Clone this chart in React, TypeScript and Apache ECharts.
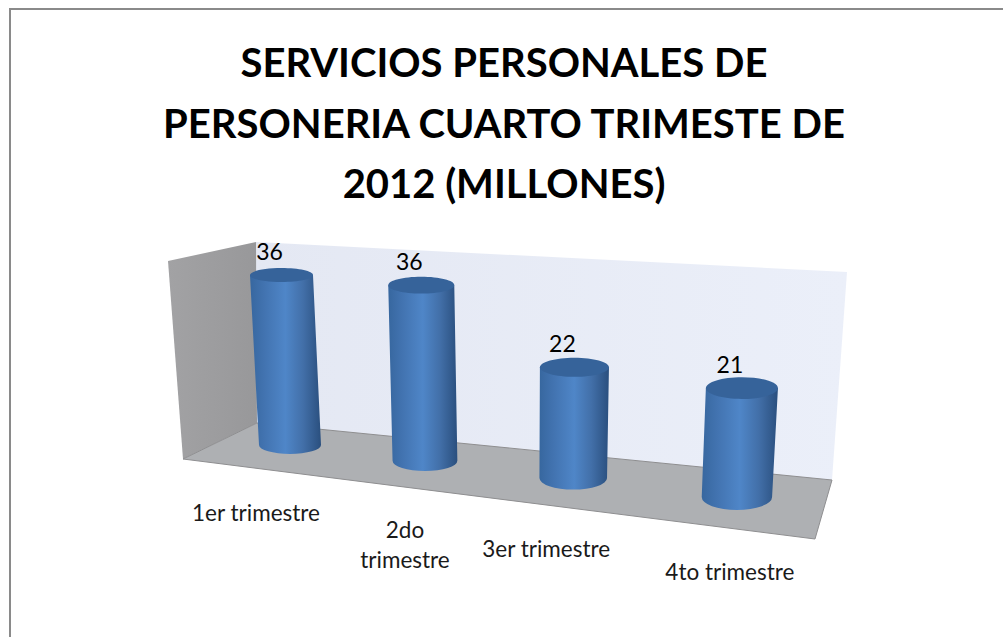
import React, { useEffect, useRef } from "react";
import * as echarts from "echarts";

const titleLines = ["SERVICIOS PERSONALES DE", "PERSONERIA CUARTO TRIMESTE DE", "2012 (MILLONES)"];
const categories = ["1er trimestre", "2do\ntrimestre", "3er trimestre", "4to trimestre"];
const values = [36, 36, 22, 21];

// perspective of the scene
const DEPTH = -0.0449;
const X0 = 290;
const FLOOR_SLOPE = 0.1163;
const LEAN = 0.000215;
const LEAN_X = 523;
const LABEL_OFFSETS = [[-34, 67], [-20, 84], [-27, 71], [-7, 75]];

const FONT = "Lato, Carlito, Calibri, sans-serif";

const bodyFill = new echarts.graphic.LinearGradient(0, 0, 1, 0, [
  { offset: 0, color: "#37679f" },
  { offset: 0.2, color: "#4273b0" },
  { offset: 0.5, color: "#4f86c8" },
  { offset: 0.75, color: "#426fa8" },
  { offset: 1, color: "#2a4f7e" },
]);

function renderCylinder(_params: any, api: any) {
  const t = api.value(0);
  const v = api.value(1);
  const origin = api.coord([t, 0]);
  const unit = api.size([0, 1])[1];
  const x = X0 + (origin[0] - X0) / (1 + DEPTH * t);
  const y = origin[1] + FLOOR_SLOPE * (x - X0);
  const h = unit * v * (1 + 0.033 * t);
  const rx = 31 * (1 + 0.045 * t);
  const rxTop = 31.5 * (1 + 0.048 * t);
  const ryBottom = 9 + 1.33 * t;
  const ryTop = 7 + 1.3 * t;
  const topX = x + h * LEAN * (x - LEAN_X);
  const topY = y - h;
  const d =
    `M${topX - rxTop} ${topY} L${x - rx} ${y} ` +
    `A${rx} ${ryBottom} 0 0 0 ${x + rx} ${y} ` +
    `L${topX + rxTop} ${topY} Z`;
  const off = LABEL_OFFSETS[t];
  return {
    type: "group",
    children: [
      { type: "path", shape: { pathData: d }, style: { fill: bodyFill } },
      { type: "ellipse", shape: { cx: topX, cy: topY, rx: rxTop, ry: ryTop }, style: { fill: "#36639a" } },
      { type: "text", style: { text: String(v), x: topX - 12, y: topY - 24, fill: "#000", fontSize: 23, fontFamily: FONT, align: "center", verticalAlign: "middle" } },
      { type: "text", style: { text: categories[t], x: x + off[0], y: y + off[1], fill: "#1a1a1a", fontSize: 22.5, lineHeight: 30, fontFamily: FONT, align: "center", verticalAlign: "middle" } },
    ],
  };
}

export default function App() {
  const ref = useRef<HTMLDivElement>(null);
  useEffect(() => {
    const chart = echarts.init(ref.current!, undefined, { renderer: "svg" });
    chart.setOption({
      animation: false,
      backgroundColor: "#fff",
      title: {
        text: titleLines.join("\n"),
        left: 499,
        top: 27,
        textAlign: "center",
        textStyle: { fontFamily: FONT, fontWeight: "bold", fontSize: 40, lineHeight: 60.5, color: "#000" },
      },
      grid: { left: 225.55, width: 515.6, top: 256.2, height: 188.8 },
      xAxis: { type: "category", data: categories, show: false },
      yAxis: { type: "value", min: 0, max: 40, show: false },
      graphic: [
        { type: "line", z: 0, shape: { x1: 9, y1: 9, x2: 1003, y2: 9 }, style: { stroke: "#8a8a8a", lineWidth: 2 } },
        { type: "line", z: 0, shape: { x1: 10, y1: 8, x2: 10, y2: 637 }, style: { stroke: "#8a8a8a", lineWidth: 2 } },
        {
          type: "polygon", z: 0,
          shape: { points: [[256, 242], [847, 272], [832, 480], [257, 423]] },
          style: { fill: new echarts.graphic.LinearGradient(0, 0, 1, 0, [{ offset: 0, color: "#e4e8f3" }, { offset: 1, color: "#ebeff9" }]) },
        },
        {
          type: "polygon", z: 0,
          shape: { points: [[168, 261], [256, 242], [257, 423], [183, 459]] },
          style: { fill: new echarts.graphic.LinearGradient(0, 0, 1, 0, [{ offset: 0, color: "#a2a2a4" }, { offset: 1, color: "#98989a" }]) },
        },
        {
          type: "polygon", z: 0,
          shape: { points: [[257, 423], [832, 480], [815, 539], [183, 459]] },
          style: { fill: "#aeb0b3", stroke: "#8e8e90", lineWidth: 1 },
        },
      ],
      series: [
        {
          type: "custom",
          renderItem: renderCylinder,
          data: values.map((v, i) => [i, v]),
          encode: { x: 0, y: 1 },
          clip: false,
        },
      ],
    });
    return () => chart.dispose();
  }, []);
  return <div ref={ref} style={{ position: "absolute", left: 0, top: 0, width: 1003, height: 637 }} />;
}
